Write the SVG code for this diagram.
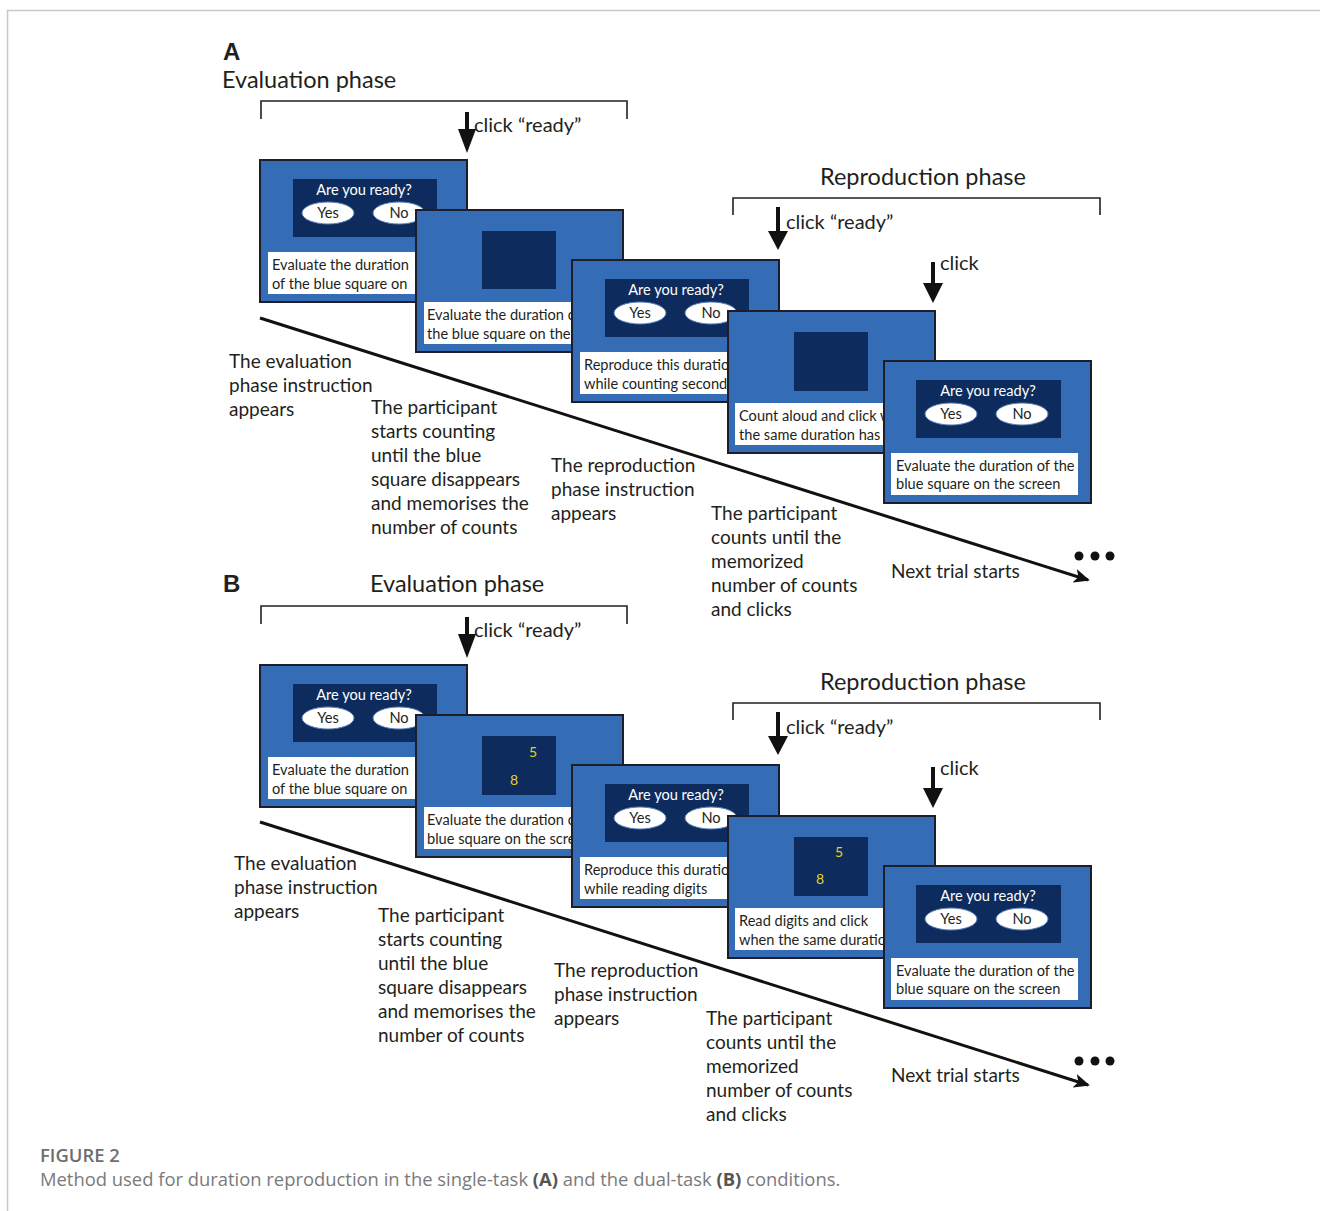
<svg xmlns="http://www.w3.org/2000/svg" width="1320" height="1211" viewBox="0 0 1320 1211">
<style>
.scr{fill:#356cb6;stroke:#1d1d2b;stroke-width:2}
.dk{fill:#0d2c5d}
.wb{fill:#ffffff}
.el{fill:#ffffff;stroke:#5a7fb8;stroke-width:1}
.st{font-family:Lato,"Open Sans",sans-serif;font-size:14.6px;fill:#231f20}
.sw{font-family:Lato,"Open Sans",sans-serif;font-size:14.6px;fill:#ffffff;text-anchor:middle}
.sb{font-family:Lato,"Open Sans",sans-serif;font-size:14.6px;fill:#231f20;text-anchor:middle}
.dg{font-family:Lato,"Open Sans",sans-serif;font-size:14px;fill:#e3d21f}
.lb{font-family:Lato,"Open Sans",sans-serif;font-size:19px;fill:#231f20}
.ck{font-family:Lato,"Open Sans",sans-serif;font-size:20px;fill:#231f20}
.ph{font-family:Lato,"Open Sans",sans-serif;font-size:23.5px;fill:#231f20}
.let{font-family:"Liberation Sans",Arial,sans-serif;font-size:24px;font-weight:bold;fill:#231f20}
.br{fill:none;stroke:#231f20;stroke-width:1.6}
.tl{fill:none;stroke:#111111;stroke-width:3}
.ar{fill:#111111}
.cap{font-family:"Open Sans",sans-serif;font-size:18.4px;fill:#7a7a7a}
</style>
<defs>
<marker id="ah" markerWidth="16" markerHeight="14" refX="14" refY="7" orient="auto" markerUnits="userSpaceOnUse">
<path d="M0,0 L16,7 L0,14 L4,7 Z" fill="#111111"/>
</marker>
</defs>
<rect x="0" y="0" width="1320" height="1211" fill="#ffffff"/>
<path d="M7.5,1211 V10.5 H1320" fill="none" stroke="#c8c8c8" stroke-width="1.5"/>

<!-- Panel A -->
<g id="panelA-labels">
<text class="let" x="223" y="60">A</text>
<text class="ph" x="222" y="88">Evaluation phase</text>
<text class="ph" x="820" y="185">Reproduction phase</text>
<path class="br" d="M261,119 V101 H627 V119"/>
<path class="br" d="M733,215 V198 H1100 V215"/>
<text class="ck" x="474" y="132">click “ready”</text>
<text class="ck" x="786" y="229">click “ready”</text>
<text class="ck" x="940" y="270">click</text>
</g>

<g id="A-screen1" transform="translate(260,160)">
<rect class="scr" x="0" y="0" width="207" height="142"/>
<rect class="dk" x="33" y="19" width="144" height="58"/>
<text class="sw" x="104" y="35">Are you ready?</text>
<ellipse class="el" cx="68" cy="53" rx="26" ry="11"/>
<text class="sb" x="68" y="58">Yes</text>
<ellipse class="el" cx="139" cy="53" rx="26" ry="11"/>
<text class="sb" x="139" y="58">No</text>
<rect class="wb" x="8" y="92" width="187" height="42"/>
<text class="st" x="12" y="110">Evaluate the duration</text>
<text class="st" x="12" y="129">of the blue square on</text>
</g>
<g id="A-screen2" transform="translate(416,210)">
<rect class="scr" x="0" y="0" width="207" height="142"/>
<rect class="dk" x="66" y="21" width="74" height="58"/>
<rect class="wb" x="8" y="92" width="187" height="42"/>
<text class="st" x="11" y="110">Evaluate the duration of</text>
<text class="st" x="11" y="129">the blue square on the</text>
</g>
<g id="A-screen3" transform="translate(572,260)">
<rect class="scr" x="0" y="0" width="207" height="142"/>
<rect class="dk" x="33" y="19" width="144" height="58"/>
<text class="sw" x="104" y="35">Are you ready?</text>
<ellipse class="el" cx="68" cy="53" rx="26" ry="11"/>
<text class="sb" x="68" y="58">Yes</text>
<ellipse class="el" cx="139" cy="53" rx="26" ry="11"/>
<text class="sb" x="139" y="58">No</text>
<rect class="wb" x="8" y="92" width="187" height="42"/>
<text class="st" x="12" y="110">Reproduce this duration</text>
<text class="st" x="12" y="129">while counting seconds</text>
</g>
<g id="A-screen4" transform="translate(728,311)">
<rect class="scr" x="0" y="0" width="207" height="142"/>
<rect class="dk" x="66" y="21" width="74" height="59"/>
<rect class="wb" x="7" y="92" width="187" height="42"/>
<text class="st" x="11" y="110">Count aloud and click when</text>
<text class="st" x="11" y="129">the same duration has</text>
</g>
<g id="A-screen5" transform="translate(884,361)">
<rect class="scr" x="0" y="0" width="207" height="142"/>
<rect class="dk" x="32" y="19" width="145" height="58"/>
<text class="sw" x="104" y="35">Are you ready?</text>
<ellipse class="el" cx="67" cy="53" rx="26" ry="11"/>
<text class="sb" x="67" y="58">Yes</text>
<ellipse class="el" cx="138" cy="53" rx="26" ry="11"/>
<text class="sb" x="138" y="58">No</text>
<rect class="wb" x="7" y="92" width="187" height="42"/>
<text class="st" x="12" y="110">Evaluate the duration of the</text>
<text class="st" x="12" y="128">blue square on the screen</text>
</g>

<g id="A-steps">
<text class="lb" x="229" y="368">The evaluation</text>
<text class="lb" x="229" y="392">phase instruction</text>
<text class="lb" x="229" y="416">appears</text>
<text class="lb" x="371" y="414">The participant</text>
<text class="lb" x="371" y="438">starts counting</text>
<text class="lb" x="371" y="462">until the blue</text>
<text class="lb" x="371" y="486">square disappears</text>
<text class="lb" x="371" y="510">and memorises the</text>
<text class="lb" x="371" y="534">number of counts</text>
<text class="lb" x="551" y="472">The reproduction</text>
<text class="lb" x="551" y="496">phase instruction</text>
<text class="lb" x="551" y="520">appears</text>
<text class="lb" x="711" y="520">The participant</text>
<text class="lb" x="711" y="544">counts until the</text>
<text class="lb" x="711" y="568">memorized</text>
<text class="lb" x="711" y="592">number of counts</text>
<text class="lb" x="711" y="616">and clicks</text>
<text class="lb" x="891" y="578">Next trial starts</text>
<circle class="ar" cx="1079" cy="556" r="4.5"/>
<circle class="ar" cx="1095" cy="556" r="4.5"/>
<circle class="ar" cx="1110" cy="556" r="4.5"/>
</g>

<!-- Panel B -->
<g id="panelB-labels">
<text class="let" x="223" y="592">B</text>
<text class="ph" x="370" y="592">Evaluation phase</text>
<text class="ph" x="820" y="690">Reproduction phase</text>
<path class="br" d="M261,624 V606 H627 V624"/>
<path class="br" d="M733,720 V703 H1100 V720"/>
<text class="ck" x="474" y="637">click “ready”</text>
<text class="ck" x="786" y="734">click “ready”</text>
<text class="ck" x="940" y="775">click</text>
</g>

<g id="B-screen1" transform="translate(260,665)">
<rect class="scr" x="0" y="0" width="207" height="142"/>
<rect class="dk" x="33" y="19" width="144" height="58"/>
<text class="sw" x="104" y="35">Are you ready?</text>
<ellipse class="el" cx="68" cy="53" rx="26" ry="11"/>
<text class="sb" x="68" y="58">Yes</text>
<ellipse class="el" cx="139" cy="53" rx="26" ry="11"/>
<text class="sb" x="139" y="58">No</text>
<rect class="wb" x="8" y="92" width="187" height="42"/>
<text class="st" x="12" y="110">Evaluate the duration</text>
<text class="st" x="12" y="129">of the blue square on</text>
</g>
<g id="B-screen2" transform="translate(416,715)">
<rect class="scr" x="0" y="0" width="207" height="142"/>
<rect class="dk" x="66" y="21" width="74" height="59"/>
<text class="dg" x="113" y="42">5</text>
<text class="dg" x="94" y="70">8</text>
<rect class="wb" x="8" y="92" width="187" height="42"/>
<text class="st" x="11" y="110">Evaluate the duration of</text>
<text class="st" x="11" y="129">blue square on the screen</text>
</g>
<g id="B-screen3" transform="translate(572,765)">
<rect class="scr" x="0" y="0" width="207" height="142"/>
<rect class="dk" x="33" y="19" width="144" height="58"/>
<text class="sw" x="104" y="35">Are you ready?</text>
<ellipse class="el" cx="68" cy="53" rx="26" ry="11"/>
<text class="sb" x="68" y="58">Yes</text>
<ellipse class="el" cx="139" cy="53" rx="26" ry="11"/>
<text class="sb" x="139" y="58">No</text>
<rect class="wb" x="8" y="92" width="187" height="42"/>
<text class="st" x="12" y="110">Reproduce this duration</text>
<text class="st" x="12" y="129">while reading digits</text>
</g>
<g id="B-screen4" transform="translate(728,816)">
<rect class="scr" x="0" y="0" width="207" height="142"/>
<rect class="dk" x="66" y="21" width="74" height="59"/>
<text class="dg" x="107" y="41">5</text>
<text class="dg" x="88" y="68">8</text>
<rect class="wb" x="7" y="92" width="187" height="42"/>
<text class="st" x="11" y="110">Read digits and click</text>
<text class="st" x="11" y="129">when the same duration</text>
</g>
<g id="B-screen5" transform="translate(884,866)">
<rect class="scr" x="0" y="0" width="207" height="142"/>
<rect class="dk" x="32" y="19" width="145" height="58"/>
<text class="sw" x="104" y="35">Are you ready?</text>
<ellipse class="el" cx="67" cy="53" rx="26" ry="11"/>
<text class="sb" x="67" y="58">Yes</text>
<ellipse class="el" cx="138" cy="53" rx="26" ry="11"/>
<text class="sb" x="138" y="58">No</text>
<rect class="wb" x="7" y="92" width="187" height="42"/>
<text class="st" x="12" y="110">Evaluate the duration of the</text>
<text class="st" x="12" y="128">blue square on the screen</text>
</g>

<g id="B-steps">
<text class="lb" x="234" y="870">The evaluation</text>
<text class="lb" x="234" y="894">phase instruction</text>
<text class="lb" x="234" y="918">appears</text>
<text class="lb" x="378" y="922">The participant</text>
<text class="lb" x="378" y="946">starts counting</text>
<text class="lb" x="378" y="970">until the blue</text>
<text class="lb" x="378" y="994">square disappears</text>
<text class="lb" x="378" y="1018">and memorises the</text>
<text class="lb" x="378" y="1042">number of counts</text>
<text class="lb" x="554" y="977">The reproduction</text>
<text class="lb" x="554" y="1001">phase instruction</text>
<text class="lb" x="554" y="1025">appears</text>
<text class="lb" x="706" y="1025">The participant</text>
<text class="lb" x="706" y="1049">counts until the</text>
<text class="lb" x="706" y="1073">memorized</text>
<text class="lb" x="706" y="1097">number of counts</text>
<text class="lb" x="706" y="1121">and clicks</text>
<text class="lb" x="891" y="1082">Next trial starts</text>
<circle class="ar" cx="1079" cy="1061" r="4.5"/>
<circle class="ar" cx="1095" cy="1061" r="4.5"/>
<circle class="ar" cx="1110" cy="1061" r="4.5"/>
</g>

<g id="connectors">
<line class="tl" x1="260" y1="318" x2="1088" y2="580" marker-end="url(#ah)"/>
<line class="tl" x1="260" y1="822" x2="1088" y2="1085" marker-end="url(#ah)"/>
<path class="ar" d="M465,112 H469 V129 H476 L467,153 L458,129 H465 Z"/>
<path class="ar" d="M776,207 H780 V231 H788 L778,250 L768,231 H776 Z"/>
<path class="ar" d="M931,262 H935 V283 H943 L933,303 L923,283 H931 Z"/>
<path class="ar" d="M465,617 H469 V634 H476 L467,658 L458,634 H465 Z"/>
<path class="ar" d="M776,712 H780 V736 H788 L778,755 L768,736 H776 Z"/>
<path class="ar" d="M931,767 H935 V788 H943 L933,808 L923,788 H931 Z"/>
</g>

<g id="caption">
<text class="cap" x="40" y="1162" style="font-weight:600;fill:#6e6e6e">FIGURE 2</text>
<text class="cap" x="40" y="1186">Method used for duration reproduction in the single-task <tspan font-weight="bold" fill="#555555">(A)</tspan> and the dual-task <tspan font-weight="bold" fill="#555555">(B)</tspan> conditions.</text>
</g>
</svg>
